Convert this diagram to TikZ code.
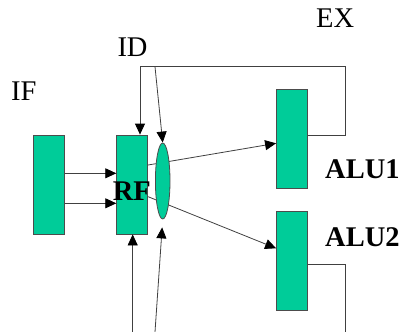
\documentclass[tikz,border=0pt]{standalone}
\usepackage{fontspec}
\setmainfont{Liberation Serif}
\usetikzlibrary{arrows.meta,shapes.geometric}
\definecolor{boxgreen}{HTML}{00CC99}
\begin{document}
\begin{tikzpicture}[x=1pt,y=-1pt,
  reg/.style={draw=black!70,fill=boxgreen,line width=0.8pt,inner sep=0pt,minimum width=31pt,minimum height=99pt},
  lbl/.style={inner sep=0pt,anchor=base west,font=\fontsize{28.5}{30}\selectfont},
  blbl/.style={lbl,font=\fontsize{28.5}{30}\selectfont\bfseries},
  wire/.style={draw=black!75,line width=0.8pt},
  arr/.style={wire,-{Triangle[length=11pt,width=10pt,color=black]}}]
\useasboundingbox (0,0) rectangle (405,332);
\node[reg] (IF) at (48.7,184.5) {};
\node[reg] (RF) at (132.2,184.5) {};
\node[reg] (ALU1) at (292,139) {};
\node[reg] (ALU2) at (292,260.5) {};
% IF -> RF
\draw[arr] (IF.east |- 0,173.3) -- (RF.west |- 0,173.3);
\draw[arr] (IF.east |- 0,203.3) -- (RF.west |- 0,203.3);
% RF -> ALUs (through the ellipse)
\draw[arr] (RF.east |- 0,165) -- (ALU1.west |- 0,143.3);
\draw[arr] (RF.east |- 0,196.7) -- (ALU2.west |- 0,248.3);
\node[ellipse,draw=black!70,fill=boxgreen,line width=0.8pt,inner sep=0pt,minimum width=14.6pt,minimum height=76pt] (ell) at (162.7,181) {};
% feedback ALU1 -> RF
\coordinate (c1) at (345,135);
\coordinate (c2) at (345,66.7);
\coordinate (c3) at (140,66.7);
\coordinate (c4) at (155,66.7);
\draw[arr] (ALU1.east |- c1) -- (c1) -- (c2) -- (c3) -- (RF.north -| c3);
\draw[arr] (c4) -- (ell.north);
% from below
\coordinate (b1) at (132.7,332);
\coordinate (b2) at (155,332);
\draw[arr] (b1) -- (RF.south -| b1);
\draw[arr,shorten >=8pt] (b2) -- (ell.south);
% ALU2 output
\coordinate (d1) at (345,264.3);
\coordinate (d2) at (345,332);
\draw[wire] (ALU2.east |- d1) -- (d1) -- (d2);
% labels
\node[lbl] (tEX) at (316,27.3) {EX};
\node[lbl] (tID) at (117.3,56.7) {ID};
\node[lbl] (tIF) at (11,100) {IF};
\node[blbl] (tA1) at (325,178.3) {ALU1};
\node[blbl] (tA2) at (325,246.7) {ALU2};
\node[blbl] (tRF) at (112.7,200) {RF};
\end{tikzpicture}
\end{document}
